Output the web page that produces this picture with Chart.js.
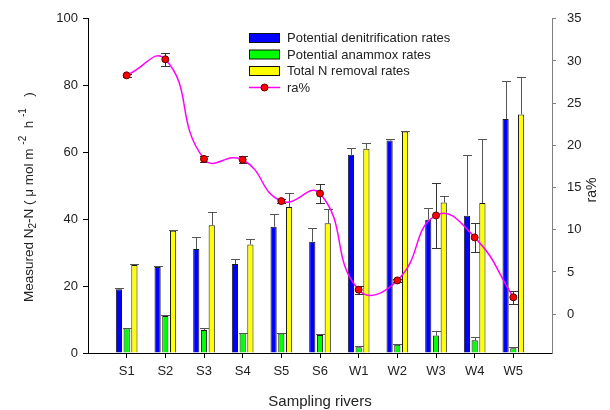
<!DOCTYPE html>
<html>
<head>
<meta charset="utf-8">
<script src="https://cdn.jsdelivr.net/npm/chart.js@4.4.0/dist/chart.umd.min.js"></script>
<style>
  html, body { margin: 0; padding: 0; background: #fff; }
</style>
</head>
<body>
<canvas id="chart" width="610" height="410"></canvas>
<script>
// values
const categories = ['S1', 'S2', 'S3', 'S4', 'S5', 'S6', 'W1', 'W2', 'W3', 'W4', 'W5'];
const denitrification = [19.1, 25.7, 31.1, 26.6, 37.8, 33.3, 59.3, 63.6, 39.9, 41.1, 70.0];
const denitrificationErr = [0.3, 0.3, 3.5, 1.5, 3.8, 4.0, 2.0, 0.3, 3.5, 18.2, 11.5];
const anammox = [7.4, 11.1, 6.9, 5.9, 5.8, 5.4, 1.7, 2.5, 5.2, 3.8, 1.4];
const anammoxErr = [0.2, 0.2, 0.6, 0.2, 0.2, 0.2, 0.3, 0.3, 1.5, 0.9, 0.3];
const totalRemoval = [26.3, 36.6, 38.2, 32.5, 43.7, 38.8, 61.1, 66.3, 45.0, 44.9, 71.4];
const totalRemovalErr = [0.3, 0.2, 3.9, 1.7, 4.3, 4.2, 1.8, 0.2, 2.1, 19.1, 11.1];
const raPercent = [28.3, 30.2, 18.4, 18.3, 13.4, 14.3, 2.9, 4.0, 11.7, 9.1, 2.0];
const raPercentErr = [0.2, 0.75, 0.4, 0.4, 0.2, 1.1, 0.45, 0.2, 3.8, 1.7, 0.77];
const leftTicks = [0, 20, 40, 60, 80, 100];
const rightTicks = [0, 5, 10, 15, 20, 25, 30, 35];

const FONT = "'Liberation Sans', Arial, sans-serif";
const TEXT = '#222';
Chart.defaults.font.family = FONT;
Chart.defaults.color = TEXT;

// categories sit at 1..11 on a linear x axis so the axis can run 0..12
const xPos = categories.map((c, i) => i + 1);
function toPoints(values) {
  return values.map((v, i) => ({ x: xPos[i], y: v }));
}

// error bars: bars get an upper whisker, ra% gets both directions
function drawErrors(chart, index, meta) {
  const ds = chart.data.datasets[index];
  const yScale = chart.scales[meta.yAxisID];
  const ctx = chart.ctx;
  ctx.save();
  ctx.strokeStyle = ds.errorBoth ? '#333' : '#555';
  ctx.lineWidth = 1;
  meta.data.forEach((el, i) => {
    const v = ds.data[i].y;
    const e = ds.errors[i];
    const x = Math.round(el.x) + 0.5;
    const top = Math.round(yScale.getPixelForValue(v + e)) + 0.5;
    const bottom = ds.errorBoth ? Math.round(yScale.getPixelForValue(v - e)) + 0.5 : el.y;
    const half = 4.5;
    ctx.beginPath();
    ctx.moveTo(x, bottom);
    ctx.lineTo(x, top);
    ctx.moveTo(x - half, top);
    ctx.lineTo(x + half, top);
    if (ds.errorBoth) {
      ctx.moveTo(x - half, bottom);
      ctx.lineTo(x + half, bottom);
    }
    ctx.stroke();
  });
  ctx.restore();
}

const errorBarPlugin = {
  id: 'errorBars',
  beforeDatasetDraw(chart, args) {
    const ds = chart.data.datasets[args.index];
    if (ds.errors && ds.errorBoth) drawErrors(chart, args.index, args.meta);
  },
  afterDatasetDraw(chart, args) {
    const ds = chart.data.datasets[args.index];
    if (ds.errors && !ds.errorBoth) drawErrors(chart, args.index, args.meta);
  }
};

// legend drawn inside the plot, like the original
const innerLegendPlugin = {
  id: 'innerLegend',
  afterDraw(chart) {
    const ctx = chart.ctx;
    const rows = [38, 54.5, 71, 87.5];
    ctx.save();
    ctx.font = '13px ' + FONT;
    ctx.textBaseline = 'middle';
    ctx.fillStyle = TEXT;
    chart.data.datasets.forEach((ds, i) => {
      const y = rows[i];
      if (ds.type === 'bar') {
        ctx.fillStyle = ds.backgroundColor;
        ctx.fillRect(249, y - 4.5, 30, 9);
        ctx.strokeStyle = '#111';
        ctx.lineWidth = 1;
        ctx.strokeRect(249.5, y - 4.5, 30, 9);
      } else {
        ctx.strokeStyle = ds.borderColor;
        ctx.lineWidth = 1.5;
        ctx.beginPath();
        ctx.moveTo(249, y);
        ctx.lineTo(280, y);
        ctx.stroke();
        ctx.fillStyle = ds.pointBackgroundColor;
        ctx.strokeStyle = ds.pointBorderColor;
        ctx.lineWidth = 1;
        ctx.beginPath();
        ctx.arc(264.5, y, 3.5, 0, Math.PI * 2);
        ctx.fill();
        ctx.stroke();
      }
      ctx.fillStyle = TEXT;
      ctx.fillText(ds.label, 287, y + 0.5);
    });
    ctx.restore();
  }
};

// axis titles (left one needs sub/superscripts)
function drawRich(ctx, parts, x, y) {
  parts.forEach(p => {
    ctx.font = p.size + 'px ' + FONT;
    ctx.fillText(p.text, x, y + (p.dy || 0));
    x += ctx.measureText(p.text).width;
  });
}

const axisTitlePlugin = {
  id: 'axisTitles',
  afterDraw(chart) {
    const ctx = chart.ctx;
    ctx.save();
    ctx.fillStyle = TEXT;
    ctx.textBaseline = 'middle';

    ctx.save();
    ctx.translate(29, 302);
    ctx.rotate(-Math.PI / 2);
    drawRich(ctx, [
      { text: 'Measured N', size: 13.5 },
      { text: '2', size: 10, dy: 4 },
      { text: '-N ( \u03bc mol m ', size: 13.5 },
      { text: '-2', size: 10, dy: -6 },
      { text: '  h ', size: 13.5 },
      { text: '-1', size: 10, dy: -6 },
      { text: '   )', size: 13.5 }
    ], 0, 0);
    ctx.restore();

    ctx.save();
    ctx.translate(592, 190);
    ctx.rotate(-Math.PI / 2);
    ctx.textAlign = 'center';
    ctx.font = '14px ' + FONT;
    ctx.fillText('ra%', 0, 0);
    ctx.restore();

    ctx.textAlign = 'center';
    ctx.font = '15px ' + FONT;
    ctx.fillText('Sampling rivers', 320, 402);
    ctx.restore();
  }
};

const barStyle = { borderColor: '#1a1a1a', borderWidth: 1, barPercentage: 0.8, categoryPercentage: 0.6, order: 1, yAxisID: 'y' };

new Chart(document.getElementById('chart'), {
  type: 'bar',
  data: {
    datasets: [
      Object.assign({ type: 'bar', label: 'Potential denitrification rates', data: toPoints(denitrification), backgroundColor: '#0000ff', errors: denitrificationErr }, barStyle),
      Object.assign({ type: 'bar', label: 'Potential anammox rates', data: toPoints(anammox), backgroundColor: '#00ff00', errors: anammoxErr }, barStyle),
      Object.assign({ type: 'bar', label: 'Total N removal rates', data: toPoints(totalRemoval), backgroundColor: '#ffff00', errors: totalRemovalErr }, barStyle),
      {
        type: 'line',
        label: 'ra%',
        data: toPoints(raPercent),
        yAxisID: 'yRa',
        borderColor: '#ff00ff',
        borderWidth: 1.5,
        tension: 0.5,
        pointRadius: 3.5,
        pointBackgroundColor: '#ff0000',
        pointBorderColor: '#5a0000',
        pointBorderWidth: 1,
        errors: raPercentErr,
        errorBoth: true,
        order: 0
      }
    ]
  },
  options: {
    responsive: false,
    animation: false,
    layout: { padding: { top: 18, left: 0, right: 0, bottom: 0 } },
    plugins: { legend: { display: false }, tooltip: { enabled: false } },
    scales: {
      x: {
        type: 'linear',
        min: 0,
        max: 12,
        offset: false,
        afterBuildTicks: scale => { scale.ticks = xPos.map(v => ({ value: v })); },
        afterFit: scale => { scale.height = 57; },
        ticks: {
          callback: value => categories[Math.round(value) - 1] || '',
          font: { size: 13 },
          color: TEXT,
          padding: 6,
          maxRotation: 0,
          autoSkip: false
        },
        grid: { display: true, offset: false, drawOnChartArea: false, drawTicks: true, tickLength: 5, tickColor: '#000' },
        border: { display: true, color: '#000', width: 1 }
      },
      y: {
        position: 'left',
        min: 0,
        max: 100,
        afterBuildTicks: scale => { scale.ticks = leftTicks.map(v => ({ value: v })); },
        afterFit: scale => { scale.width = 88; },
        ticks: { font: { size: 13 }, color: TEXT, padding: 5 },
        grid: { display: true, drawOnChartArea: false, drawTicks: true, tickLength: 5, tickColor: '#000' },
        border: { display: true, color: '#000', width: 1 }
      },
      yRa: {
        position: 'right',
        min: -4.6,
        max: 35,
        afterBuildTicks: scale => { scale.ticks = rightTicks.map(v => ({ value: v })); },
        afterFit: scale => { scale.width = 58; },
        ticks: { font: { size: 13 }, color: TEXT, padding: 11 },
        grid: { display: true, drawOnChartArea: false, drawTicks: true, tickLength: 4, tickColor: '#7f7f7f' },
        border: { display: true, color: '#7f7f7f', width: 1 }
      }
    }
  },
  plugins: [errorBarPlugin, innerLegendPlugin, axisTitlePlugin]
});
</script>
</body>
</html>
